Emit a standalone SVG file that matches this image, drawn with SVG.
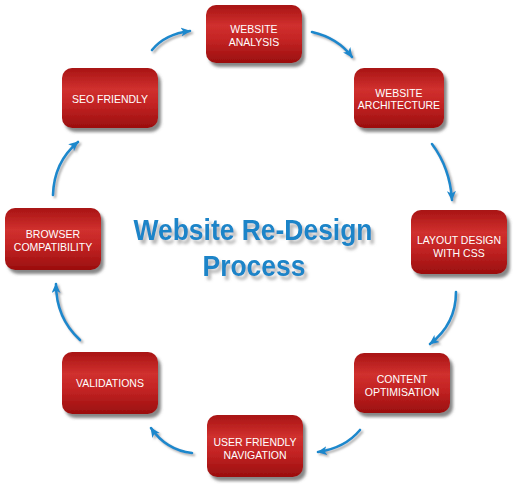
<svg xmlns="http://www.w3.org/2000/svg" width="515" height="485" viewBox="0 0 515 485">
<defs>
<linearGradient id="red" x1="0" y1="0" x2="0" y2="1">
<stop offset="0" stop-color="#a81414"/>
<stop offset="0.35" stop-color="#d0302e"/>
<stop offset="0.6" stop-color="#c42424"/>
<stop offset="1" stop-color="#9a0e0e"/>
</linearGradient>
<filter id="sh" x="-20%" y="-20%" width="150%" height="150%">
<feDropShadow dx="3" dy="4" stdDeviation="1.5" flood-color="#555" flood-opacity="0.7"/>
</filter>
<filter id="tsh" x="-10%" y="-20%" width="130%" height="160%">
<feDropShadow dx="3" dy="4" stdDeviation="1.5" flood-color="#888" flood-opacity="0.6"/>
</filter>
<filter id="ash" x="-30%" y="-30%" width="170%" height="170%">
<feDropShadow dx="2" dy="2" stdDeviation="1" flood-color="#777" flood-opacity="0.6"/>
</filter>
<marker id="head" markerUnits="userSpaceOnUse" markerWidth="12" markerHeight="10" refX="9" refY="4.5" orient="auto">
<path d="M0,0 L10,4.5 L0,9 L2.5,4.5 z" fill="#1e88cc"/>
</marker>
</defs>
<style>
.box{fill:url(#red);filter:url(#sh)}
.lbl{font-family:"Liberation Sans",Arial,sans-serif;font-size:10.5px;fill:#fff;text-anchor:middle}
.arr{fill:none;stroke:#1e88cc;stroke-width:2.6;stroke-linecap:round;marker-end:url(#head);filter:url(#ash)}
.title{font-family:"Liberation Sans",Arial,sans-serif;font-weight:bold;font-size:30px;fill:#1a84c8;text-anchor:middle;filter:url(#tsh)}
</style>
<rect width="515" height="485" fill="#fff"/>
<g id="connectors">
<path class="arr" d="M152,50 Q165,34 190,31"/>
<path class="arr" d="M312,32 Q338,38 352,57"/>
<path class="arr" d="M432,144 Q450,168 452,200"/>
<path class="arr" d="M456,292 Q456,324 430,344"/>
<path class="arr" d="M360,430 Q345,448 318,452"/>
<path class="arr" d="M192,453 Q166,450 151,428"/>
<path class="arr" d="M80,340 Q56,318 56,284"/>
<path class="arr" d="M53,195 Q54,162 78,142"/>
</g>
<g id="title">
<text class="title" x="253" y="240" textLength="239" lengthAdjust="spacingAndGlyphs">Website Re-Design</text>
<text class="title" x="254" y="276" textLength="103" lengthAdjust="spacingAndGlyphs">Process</text>
</g>
<g id="analysis"><rect class="box" x="206" y="5" width="96" height="58" rx="10"/><text class="lbl" x="254" y="33">WEBSITE</text><text class="lbl" x="254" y="46">ANALYSIS</text></g>
<g id="architecture"><rect class="box" x="354" y="68" width="90" height="60" rx="10"/><text class="lbl" x="399" y="97">WEBSITE</text><text class="lbl" x="399" y="109">ARCHITECTURE</text></g>
<g id="seo"><rect class="box" x="62" y="68" width="96" height="60" rx="10"/><text class="lbl" x="110" y="103">SEO FRIENDLY</text></g>
<g id="browser"><rect class="box" x="5" y="208" width="96" height="62" rx="10"/><text class="lbl" x="53" y="238">BROWSER</text><text class="lbl" x="53" y="251">COMPATIBILITY</text></g>
<g id="layout"><rect class="box" x="411" y="210" width="96" height="64" rx="10"/><text class="lbl" x="459" y="244">LAYOUT DESIGN</text><text class="lbl" x="459" y="257">WITH CSS</text></g>
<g id="validations"><rect class="box" x="62" y="352" width="96" height="62" rx="10"/><text class="lbl" x="110" y="387">VALIDATIONS</text></g>
<g id="content"><rect class="box" x="354" y="353" width="96" height="60" rx="10"/><text class="lbl" x="402" y="383">CONTENT</text><text class="lbl" x="402" y="396">OPTIMISATION</text></g>
<g id="navigation"><rect class="box" x="207" y="415" width="96" height="62" rx="10"/><text class="lbl" x="255" y="446">USER FRIENDLY</text><text class="lbl" x="255" y="459">NAVIGATION</text></g>
</svg>
